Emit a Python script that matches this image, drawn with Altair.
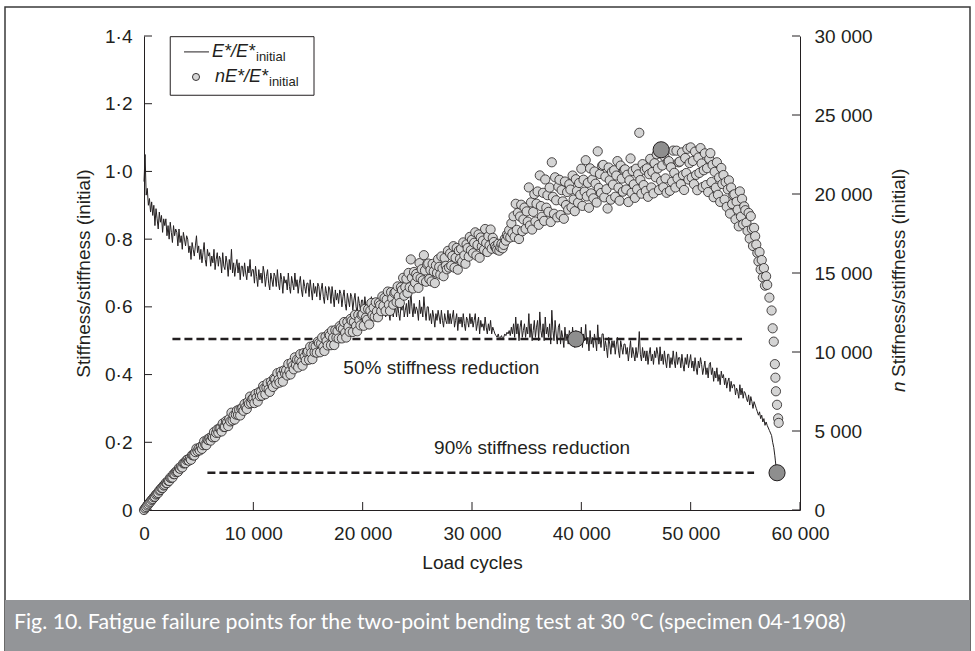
import altair as alt
import pandas as pd

FONT = "Liberation Sans"
CAPTION_FONT = "Lato"
INK = "#231f20"

# ---------------- data ----------------
# E*/E*initial, one reading every 100 load cycles from 0 to 56 900 (one row = 1 000 cycles)
ratio_main = [
    0.97, 1.05, 0.93, 0.95, 0.90, 0.92, 0.88, 0.91, 0.87, 0.90,
    0.84, 0.89, 0.86, 0.83, 0.88, 0.85, 0.87, 0.82, 0.86, 0.84,
    0.86, 0.81, 0.84, 0.80, 0.85, 0.82, 0.79, 0.84, 0.81, 0.83,
    0.82, 0.78, 0.83, 0.79, 0.81, 0.77, 0.82, 0.80, 0.78, 0.81,
    0.80, 0.76, 0.78, 0.74, 0.79, 0.77, 0.75, 0.78, 0.81, 0.76,
    0.78, 0.74, 0.77, 0.73, 0.76, 0.79, 0.74, 0.72, 0.77, 0.75,
    0.76, 0.72, 0.75, 0.73, 0.77, 0.71, 0.74, 0.76, 0.72, 0.75,
    0.74, 0.70, 0.76, 0.72, 0.71, 0.75, 0.73, 0.69, 0.74, 0.71,
    0.77, 0.70, 0.73, 0.69, 0.72, 0.74, 0.70, 0.73, 0.68, 0.72,
    0.72, 0.69, 0.73, 0.70, 0.68, 0.72, 0.70, 0.74, 0.69, 0.71,
    0.71, 0.67, 0.72, 0.69, 0.66, 0.71, 0.68, 0.70, 0.67, 0.72,
    0.70, 0.66, 0.69, 0.71, 0.67, 0.65, 0.70, 0.68, 0.66, 0.70,
    0.69, 0.66, 0.71, 0.67, 0.65, 0.70, 0.68, 0.64, 0.69, 0.67,
    0.68, 0.65, 0.70, 0.66, 0.64, 0.69, 0.67, 0.65, 0.70, 0.66,
    0.68, 0.64, 0.67, 0.69, 0.65, 0.63, 0.68, 0.66, 0.64, 0.67,
    0.67, 0.63, 0.68, 0.65, 0.62, 0.67, 0.64, 0.66, 0.63, 0.67,
    0.66, 0.62, 0.65, 0.67, 0.63, 0.61, 0.66, 0.64, 0.62, 0.66,
    0.65, 0.61, 0.66, 0.63, 0.60, 0.65, 0.62, 0.64, 0.61, 0.65,
    0.64, 0.60, 0.63, 0.65, 0.61, 0.59, 0.64, 0.62, 0.60, 0.64,
    0.63, 0.59, 0.62, 0.64, 0.60, 0.58, 0.63, 0.61, 0.59, 0.62,
    0.62, 0.58, 0.63, 0.60, 0.59, 0.62, 0.57, 0.61, 0.63, 0.59,
    0.61, 0.58, 0.62, 0.59, 0.57, 0.61, 0.60, 0.58, 0.62, 0.59,
    0.61, 0.57, 0.60, 0.62, 0.58, 0.56, 0.61, 0.59, 0.57, 0.60,
    0.60, 0.57, 0.61, 0.58, 0.56, 0.60, 0.59, 0.62, 0.57, 0.59,
    0.61, 0.57, 0.62, 0.58, 0.65, 0.60, 0.57, 0.61, 0.58, 0.60,
    0.59, 0.56, 0.62, 0.58, 0.60, 0.57, 0.63, 0.59, 0.56, 0.60,
    0.60, 0.56, 0.58, 0.55, 0.59, 0.57, 0.54, 0.58, 0.56, 0.59,
    0.57, 0.55, 0.59, 0.56, 0.54, 0.58, 0.56, 0.55, 0.59, 0.55,
    0.58, 0.55, 0.57, 0.59, 0.54, 0.56, 0.58, 0.53, 0.57, 0.55,
    0.57, 0.54, 0.58, 0.55, 0.53, 0.57, 0.56, 0.54, 0.58, 0.55,
    0.57, 0.54, 0.56, 0.58, 0.53, 0.55, 0.57, 0.52, 0.56, 0.54,
    0.55, 0.53, 0.57, 0.54, 0.52, 0.55, 0.53, 0.56, 0.52, 0.54,
    0.53, 0.52, 0.515, 0.51, 0.52, 0.505, 0.51, 0.515, 0.505, 0.51,
    0.52, 0.515, 0.525, 0.52, 0.53, 0.515, 0.54, 0.52, 0.55, 0.51,
    0.57, 0.52, 0.55, 0.50, 0.54, 0.56, 0.51, 0.53, 0.55, 0.51,
    0.54, 0.52, 0.58, 0.51, 0.55, 0.50, 0.53, 0.56, 0.51, 0.54,
    0.56, 0.50, 0.585, 0.53, 0.51, 0.55, 0.50, 0.57, 0.52, 0.54,
    0.51, 0.55, 0.49, 0.59, 0.53, 0.50, 0.56, 0.52, 0.49, 0.54,
    0.55, 0.49, 0.53, 0.51, 0.48, 0.54, 0.50, 0.52, 0.49, 0.53,
    0.52, 0.49, 0.54, 0.50, 0.48, 0.53, 0.51, 0.49, 0.52, 0.50,
    0.54, 0.48, 0.52, 0.50, 0.548, 0.49, 0.51, 0.47, 0.53, 0.49,
    0.51, 0.48, 0.52, 0.50, 0.47, 0.547, 0.49, 0.51, 0.48, 0.52,
    0.52, 0.47, 0.50, 0.48, 0.45, 0.51, 0.49, 0.46, 0.50, 0.48,
    0.50, 0.46, 0.49, 0.51, 0.47, 0.45, 0.50, 0.48, 0.46, 0.49,
    0.49, 0.46, 0.48, 0.44, 0.47, 0.50, 0.45, 0.48, 0.46, 0.44,
    0.48, 0.45, 0.47, 0.527, 0.46, 0.44, 0.48, 0.45, 0.47, 0.44,
    0.47, 0.43, 0.46, 0.48, 0.44, 0.46, 0.43, 0.47, 0.45, 0.48,
    0.46, 0.43, 0.482, 0.44, 0.46, 0.43, 0.47, 0.44, 0.42, 0.46,
    0.46, 0.42, 0.45, 0.43, 0.47, 0.44, 0.42, 0.467, 0.43, 0.45,
    0.45, 0.42, 0.46, 0.43, 0.41, 0.45, 0.43, 0.46, 0.42, 0.44,
    0.459, 0.42, 0.44, 0.41, 0.45, 0.42, 0.40, 0.44, 0.42, 0.45,
    0.43, 0.40, 0.42, 0.44, 0.40, 0.42, 0.39, 0.43, 0.436, 0.40,
    0.42, 0.38, 0.41, 0.39, 0.42, 0.38, 0.40, 0.37, 0.41, 0.39,
    0.40, 0.37, 0.39, 0.36, 0.38, 0.39, 0.35, 0.38, 0.36, 0.37,
    0.37, 0.34, 0.36, 0.35, 0.33, 0.37, 0.34, 0.36, 0.33, 0.35,
    0.345, 0.33, 0.32, 0.34, 0.31, 0.335, 0.32, 0.30, 0.32, 0.31,
    0.30, 0.29, 0.28, 0.29, 0.27, 0.28, 0.26, 0.27, 0.25, 0.26,
]
main_cycles = list(range(0, 56901, 100))

# final part of the test
tail_cycles = [57000, 57200, 57400, 57500, 57600, 57700, 57750, 57800, 57900, 58000, 58050]
tail_ratio = [0.25, 0.235, 0.22, 0.20, 0.185, 0.16, 0.145, 0.13, 0.115, 0.10, 0.095]

# fatigue failure points (large grey dots)
fail_cycles = [39500, 57900]
fail_ratio = [0.505, 0.11]
peak_cycles = [47300]
peak_nE = [22800]

# stiffness-reduction levels
level_ratio = [0.505, 0.11]
level_start = [2600, 5800]
level_end = [54700, 55800]
level_text = ["50% stiffness reduction", "90% stiffness reduction"]
level_text_cycles = [27200, 35500]
level_text_ratio = [0.42, 0.183]

# axis ticks
x_ticks = [0, 10000, 20000, 30000, 40000, 50000, 60000]
left_ticks = [0, 0.2, 0.4, 0.6, 0.8, 1.0, 1.2, 1.4]
right_ticks = [0, 5000, 10000, 15000, 20000, 25000, 30000]

caption = "Fig. 10. Fatigue failure points for the two-point bending test at 30 \u00b0C (specimen 04-1908)"

# ---------------- layout ----------------
W, H = 656, 474
PAD = {"left": 144, "top": 36, "right": 975 - 144 - W, "bottom": 651 - 36 - H}
TICK = 8
FS = 19

assert len(ratio_main) == len(main_cycles), (len(ratio_main), len(main_cycles))
df = pd.DataFrame({"cycles": main_cycles + tail_cycles, "ratio": ratio_main + tail_ratio})

xs = alt.Scale(domain=[0, 60000], nice=False, zero=True)
ls = alt.Scale(domain=[0, 1.4], nice=False, zero=True)
rs = alt.Scale(domain=[0, 30000], nice=False, zero=True)

x_axis = alt.Axis(
    values=x_ticks, labelExpr="replace(format(datum.value, ','), ',', ' ')",
    ticks=False, tickSize=0, grid=False, domainColor=INK, domainWidth=1,
    labelFont=FONT, labelFontSize=FS, labelColor=INK, labelPadding=14,
    labelFlush=False, labelOverlap=False,
    title="Load cycles", titleFont=FONT, titleFontSize=FS, titleFontWeight="normal",
    titleColor=INK, titlePadding=10,
)
left_axis = alt.Axis(
    values=left_ticks,
    labelExpr="datum.value == 0 ? '0' : replace(format(datum.value, '.1f'), '.', '\u00b7')",
    ticks=False, tickSize=0, grid=False, domainColor=INK, domainWidth=1,
    labelFont=FONT, labelFontSize=FS, labelColor=INK, labelPadding=12,
    labelFlush=False, labelOverlap=False,
    title="Stiffness/stiffness (initial)", titleFont=FONT, titleFontSize=FS,
    titleFontWeight="normal", titleColor=INK, titlePadding=11,
)
right_axis = alt.Axis(
    orient="right", values=right_ticks,
    labelExpr="replace(format(datum.value, ','), ',', ' ')",
    ticks=False, tickSize=0, grid=False, domainColor=INK, domainWidth=1,
    labelFont=FONT, labelFontSize=FS, labelColor=INK, labelPadding=14,
    labelFlush=False, labelOverlap=False, title=None,
)

X = alt.X("cycles:Q", scale=xs, axis=x_axis)
X2 = alt.X2("cycles2:Q")
YL = alt.Y("ratio:Q", scale=ls, axis=left_axis)
Y2L = alt.Y2("ratio2:Q")
YR = alt.Y("nE:Q", scale=rs, axis=right_axis)

# ---------- page furniture (frame + caption band) ----------
one = pd.DataFrame({"t": [caption]})
frame = alt.Chart(one).mark_rect(fillOpacity=0, stroke="#3a3a3a", strokeWidth=1.5).encode(
    x=alt.value(5 - PAD["left"]), x2=alt.value(970 - PAD["left"]),
    y=alt.value(7 - PAD["top"]), y2=alt.value(651 - PAD["top"]),
)
band = alt.Chart(one).mark_rect(color="#939598").encode(
    x=alt.value(5 - PAD["left"]), x2=alt.value(970 - PAD["left"]),
    y=alt.value(600 - PAD["top"]), y2=alt.value(651 - PAD["top"]),
)
cap = alt.Chart(one).mark_text(
    font=CAPTION_FONT, fontSize=21.3, color="white", align="left", baseline="middle"
).encode(x=alt.value(14 - PAD["left"]), y=alt.value(623 - PAD["top"]), text="t:N")

# ---------- left-scale layers ----------
lev_df = pd.DataFrame({"cycles": level_start, "cycles2": level_end, "ratio": level_ratio})
levels = alt.Chart(lev_df).mark_rule(color=INK, strokeWidth=2.3, strokeDash=[8, 4]).encode(
    x=X, x2=X2, y=YL
)
lev_txt_df = pd.DataFrame({"cycles": level_text_cycles, "ratio": level_text_ratio, "t": level_text})
lev_txt = alt.Chart(lev_txt_df).mark_text(font=FONT, fontSize=FS, color=INK).encode(
    x=X, y=YL, text="t:N"
)
line = alt.Chart(df).mark_line(color=INK, strokeWidth=1.0).encode(x=X, y=YL)
fail_df = pd.DataFrame({"cycles": fail_cycles, "ratio": fail_ratio})
fails = alt.Chart(fail_df).mark_point(
    shape="circle", filled=True, fill="#8e8e8e", stroke=INK, strokeWidth=1, size=260, opacity=1
).encode(x=X, y=YL)

xt_df = pd.DataFrame({"cycles": x_ticks})
xticks = alt.Chart(xt_df).mark_rule(color=INK, strokeWidth=1).encode(
    x=X, y=alt.value(H), y2=alt.value(H - TICK)
)
lt_df = pd.DataFrame({"ratio": left_ticks})
lticks = alt.Chart(lt_df).mark_rule(color=INK, strokeWidth=1).encode(
    y=YL, x=alt.value(0), x2=alt.value(TICK)
)

# legend (positioned in data units)
leg_box = pd.DataFrame({"cycles": [2400], "cycles2": [15550], "ratio": [1.225], "ratio2": [1.398]})
legend_box = alt.Chart(leg_box).mark_rect(fill="white", stroke=INK, strokeWidth=1).encode(
    x=X, x2=X2, y=YL, y2=Y2L
)
leg_line = alt.Chart(pd.DataFrame({"cycles": [3660], "cycles2": [5945], "ratio": [1.353]})).mark_rule(
    color=INK, strokeWidth=1
).encode(x=X, x2=X2, y=YL)
leg_pt = alt.Chart(pd.DataFrame({"cycles": [4756], "ratio": [1.279]})).mark_point(
    shape="circle", filled=True, fill="#d6d6d6", stroke=INK, strokeWidth=0.9, size=50, opacity=1
).encode(x=X, y=YL)

leg_rows = pd.DataFrame({"cycles": [6220, 6494], "ratio": [1.353, 1.279], "t": ["E*/E*", "nE*/E*"]})
leg_main = alt.Chart(leg_rows).mark_text(
    font=FONT, fontSize=18, fontStyle="italic", color=INK, align="left", baseline="middle"
).encode(x=X, y=YL, text="t:N")
leg_sub1 = alt.Chart(leg_rows.iloc[[0]]).mark_text(
    font=FONT, fontSize=13, color=INK, align="left", baseline="middle", dx=44, dy=5
).encode(x=X, y=YL, text=alt.value("initial"))
leg_sub2 = alt.Chart(leg_rows.iloc[[1]]).mark_text(
    font=FONT, fontSize=13, color=INK, align="left", baseline="middle", dx=54, dy=5
).encode(x=X, y=YL, text=alt.value("initial"))

left_group = alt.layer(
    frame, band, cap, levels, lev_txt, line, fails, xticks, lticks,
    legend_box, leg_line, leg_pt, leg_main, leg_sub1, leg_sub2,
)

# ---------- right-scale layers ----------
scatter = alt.Chart(df).transform_calculate(nE="datum.cycles * datum.ratio").mark_point(
    shape="circle", filled=True, fill="#d4d4d4", stroke=INK, strokeWidth=0.8, size=85, opacity=1
).encode(x=X, y=YR)
peak = alt.Chart(pd.DataFrame({"cycles": peak_cycles, "nE": peak_nE})).mark_point(
    shape="circle", filled=True, fill="#8e8e8e", stroke=INK, strokeWidth=1, size=260, opacity=1
).encode(x=X, y=YR)
rt_df = pd.DataFrame({"nE": right_ticks})
rticks = alt.Chart(rt_df).mark_rule(color=INK, strokeWidth=1).encode(
    y=YR, x=alt.value(W - TICK), x2=alt.value(W)
)
rtitle_n = alt.Chart(one).mark_text(
    font=FONT, fontSize=FS, fontStyle="italic", color=INK, angle=270, align="left", baseline="middle"
).encode(x=alt.value(899 - PAD["left"]), y=alt.value(356), text=alt.value("n"))
rtitle = alt.Chart(one).mark_text(
    font=FONT, fontSize=FS, color=INK, angle=270, align="left", baseline="middle"
).encode(x=alt.value(899 - PAD["left"]), y=alt.value(341), text=alt.value("Stiffness/stiffness (initial)"))

right_group = alt.layer(scatter, peak, rticks, rtitle_n, rtitle)

chart = alt.layer(left_group, right_group).resolve_scale(y="independent").properties(
    width=W, height=H, padding=PAD, autosize=alt.AutoSizeParams(type="none"), background="white"
).configure_view(strokeOpacity=0)

chart.save("out.html", embed_options={"renderer": "svg", "actions": False})
